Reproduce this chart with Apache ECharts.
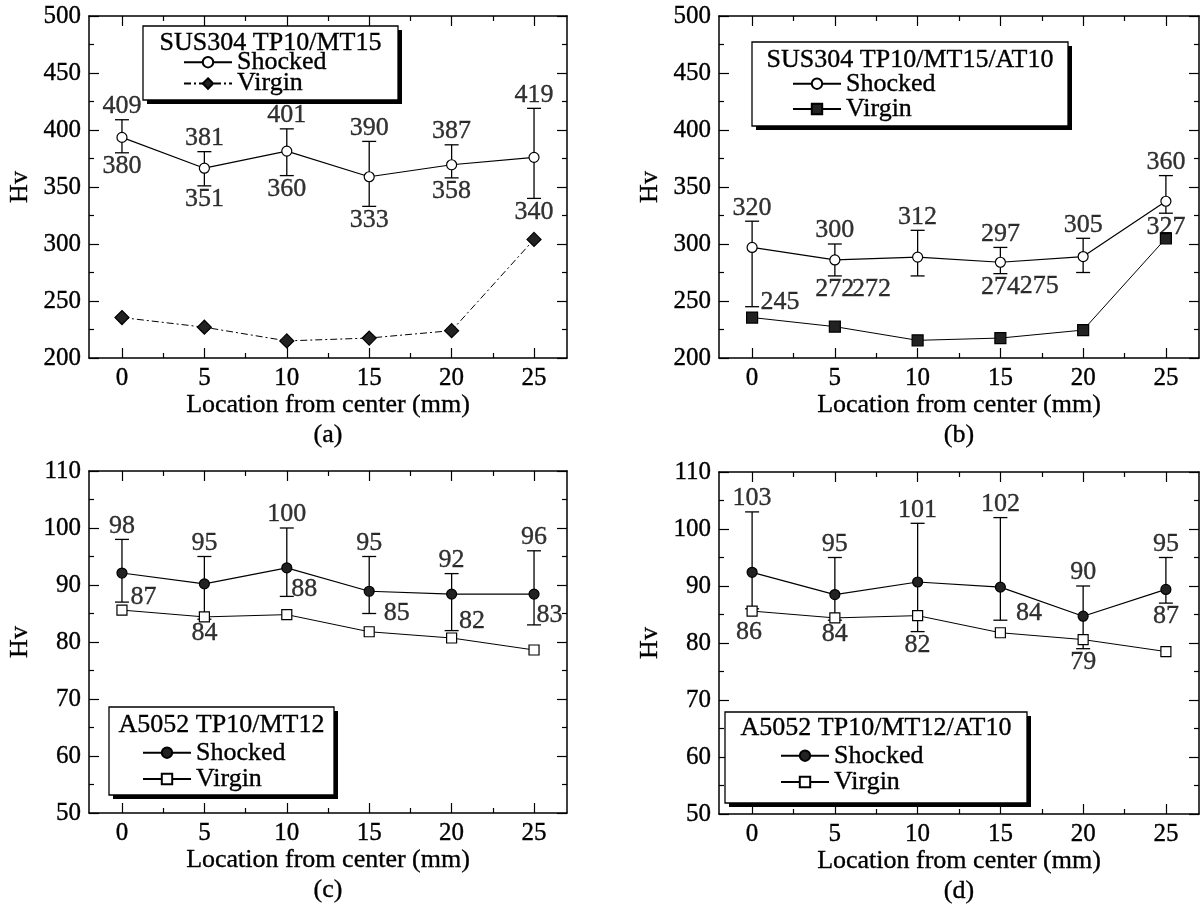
<!DOCTYPE html>
<html>
<head>
<meta charset="utf-8">
<script src="https://cdn.jsdelivr.net/npm/echarts@6/dist/echarts.min.js"></script>
<style>
html, body { margin: 0; padding: 0; background: #fff; }
#main { width: 1203px; height: 908px; }
</style>
</head>
<body>
<div id="main"></div>
<script>
// measurement positions (mm from center)
var positions = [0, 5, 10, 15, 20, 25];
var xMajor = [0, 5, 10, 15, 20, 25];
var xMinor = [2.5, 7.5, 12.5, 17.5, 22.5];

// (a) SUS304 TP10/MT15
var aShocked = [393.5, 366.5, 381.5, 359, 369.5, 376];
var aHigh = [409, 381, 401, 390, 387, 419];
var aLow = [380, 351, 360, 333, 358, 340];
var aVirgin = [235.5, 227, 215, 217.5, 224, 304];

// (b) SUS304 TP10/MT15/AT10
var bShocked = [297, 286, 288.5, 284, 289, 337.5];
var bHigh = [320, 300, 312, 297, 305, 360];
var bLow = [245, 272, 272, 274, 275, 327];
var bVirgin = [235.5, 227.5, 215.5, 217.5, 224.5, 305];

// (c) A5052 TP10/MT12
var cShocked = [92.1, 90.2, 93, 88.9, 88.4, 88.4];
var cHigh = [98, 95, 100, 95, 92, 96];
var cLow = [87, 84, 88, 85, 82, 83];
var cVirgin = [85.6, 84.4, 84.8, 81.8, 80.7, 78.6];

// (d) A5052 TP10/MT12/AT10
var dShocked = [92.4, 88.5, 90.7, 89.8, 84.7, 89.4];
var dHigh = [103, 95, 101, 102, 90, 95];
var dLow = [86, 84, 82, 84, 79, 87];
var dVirgin = [85.6, 84.4, 84.8, 81.8, 80.6, 78.5];

var titles = ['SUS304 TP10/MT15', 'SUS304 TP10/MT15/AT10', 'A5052 TP10/MT12', 'A5052 TP10/MT12/AT10'];
var captions = ['(a)', '(b)', '(c)', '(d)'];

var ink = '#000';
var dark = '#222';
var serif = '"Liberation Serif", "Times New Roman", serif';
var bold = {textBorderColor: '#000', textBorderWidth: 0.35};

var panels = [
    {key: 'a', shocked: aShocked, hi: aHigh, lo: aLow, virgin: aVirgin,
     grid: {left: 89, top: 16, width: 478, height: 342}, yMin: 200, yMax: 500, yStep: 50,
     shockedSym: ['circle', 10, '#fff'], virginSym: ['diamond', 14, dark], virginDash: [7, 3, 2, 3],
     box: [143, 26, 255, 74], titleY: 43, legend: [183, 49], gap: -5},
    {key: 'b', shocked: bShocked, hi: bHigh, lo: bLow, virgin: bVirgin,
     grid: {left: 719, top: 16, width: 480, height: 342}, yMin: 200, yMax: 500, yStep: 50,
     shockedSym: ['circle', 10, '#fff'], virginSym: ['rect', 11, dark], virginDash: 'solid',
     box: [752, 42, 316, 84], titleY: 60, legend: [792, 70.5], gap: -1},
    {key: 'c', shocked: cShocked, hi: cHigh, lo: cLow, virgin: cVirgin,
     grid: {left: 89, top: 471, width: 478, height: 342}, yMin: 50, yMax: 110, yStep: 10,
     shockedSym: ['circle', 10, dark], virginSym: ['rect', 10, '#fff'], virginDash: 'solid',
     box: [109, 707, 225, 88], titleY: 725, legend: [142, 739.5], gap: 0},
    {key: 'd', shocked: dShocked, hi: dHigh, lo: dLow, virgin: dVirgin,
     grid: {left: 719, top: 472, width: 480, height: 342}, yMin: 50, yMax: 110, yStep: 10,
     shockedSym: ['circle', 10, dark], virginSym: ['rect', 10, '#fff'], virginDash: 'solid',
     box: [725, 712, 302, 91], titleY: 728, legend: [780, 742.5], gap: 0}
];

// label placement tweaks for the lower error-bar values
var loTweaks = {
    b: {0: {position: 'right', distance: 8, offset: [0, -5]}, 2: {offset: [-46, 0]}, 4: {offset: [-44, 0]}},
    c: {0: {position: 'right', distance: 8, offset: [0, -5]}, 2: {position: 'right', distance: 4, offset: [0, -7]},
        3: {position: 'right', distance: 14}, 4: {position: 'right', distance: 7, offset: [0, -9]},
        5: {position: 'right', distance: 2, offset: [0, -10]}},
    d: {0: {distance: 10, offset: [-3, 0]}, 3: {position: 'right', distance: 15, offset: [0, -7]}}
};

var tickLine = {color: ink, width: 1.2};
var frameLine = {show: true, onZero: false, lineStyle: {color: ink, width: 1.5}};
var tickFont = Object.assign({fontSize: 25, fontFamily: serif, color: ink}, bold);
var nameFont = Object.assign({fontSize: 26, fontFamily: serif, color: ink}, bold);

function makeXAxes(gi) {
    var common = {type: 'value', gridIndex: gi, min: -2, max: 27, splitLine: {show: false}};
    return [
        Object.assign({}, common, {
            position: 'bottom', axisLine: frameLine,
            axisTick: {show: true, inside: true, length: 10, customValues: xMajor, lineStyle: tickLine},
            axisLabel: Object.assign({show: true, customValues: xMajor, margin: 8}, tickFont),
            name: 'Location from center (mm)', nameLocation: 'middle', nameGap: 31,
            nameTextStyle: nameFont
        }),
        Object.assign({}, common, {
            position: 'bottom', axisLine: {show: false}, axisLabel: {show: false},
            axisTick: {show: true, inside: true, length: 5, customValues: xMinor, lineStyle: tickLine}
        }),
        Object.assign({}, common, {
            position: 'top', axisLine: frameLine, axisLabel: {show: false},
            axisTick: {show: true, inside: true, length: 10, customValues: xMajor, lineStyle: tickLine}
        }),
        Object.assign({}, common, {
            position: 'top', axisLine: {show: false}, axisLabel: {show: false},
            axisTick: {show: true, inside: true, length: 5, customValues: xMinor, lineStyle: tickLine}
        })
    ];
}

function makeYAxes(gi, p) {
    var common = {type: 'value', gridIndex: gi, min: p.yMin, max: p.yMax, interval: p.yStep,
        splitLine: {show: false}, axisLine: frameLine,
        axisTick: {show: true, inside: true, length: 10, lineStyle: tickLine},
        minorTick: {show: true, splitNumber: 2, length: 5, lineStyle: tickLine}};
    return [
        Object.assign({}, common, {
            position: 'left',
            axisLabel: Object.assign({margin: 8}, tickFont),
            name: 'Hv', nameLocation: 'middle', nameGap: 56, nameRotate: 90,
            nameTextStyle: nameFont
        }),
        Object.assign({}, common, {position: 'right', axisLabel: {show: false}})
    ];
}

function renderErrorBar(params, api) {
    var x = api.value(0);
    var lo = api.coord([x, api.value(1)]);
    var hi = api.coord([x, api.value(2)]);
    var w = 7;
    var st = {stroke: ink, lineWidth: 1.3};
    return {
        type: 'group',
        children: [
            {type: 'line', shape: {x1: lo[0], y1: lo[1], x2: hi[0], y2: hi[1]}, style: st},
            {type: 'line', shape: {x1: hi[0] - w, y1: hi[1], x2: hi[0] + w, y2: hi[1]}, style: st},
            {type: 'line', shape: {x1: lo[0] - w, y1: lo[1], x2: lo[0] + w, y2: lo[1]}, style: st}
        ]
    };
}

var labelFont = Object.assign({show: true, fontSize: 26, fontFamily: serif, color: ink,
    formatter: function (p) { return p.value[1]; }}, bold);

var grids = [], xAxes = [], yAxes = [], series = [], legends = [], graphics = [];

panels.forEach(function (p, i) {
    grids.push(p.grid);
    xAxes = xAxes.concat(makeXAxes(i));
    yAxes = yAxes.concat(makeYAxes(i, p));
    var xi = 4 * i, yi = 2 * i;

    series.push({
        type: 'custom', xAxisIndex: xi, yAxisIndex: yi, z: 1,
        renderItem: renderErrorBar,
        encode: {x: 0, y: [1, 2]},
        data: positions.map(function (x, k) { return [x, p.lo[k], p.hi[k]]; })
    });
    series.push({
        type: 'line', name: p.key + ':Virgin', xAxisIndex: xi, yAxisIndex: yi, z: 3,
        data: positions.map(function (x, k) { return [x, p.virgin[k]]; }),
        symbol: p.virginSym[0], symbolSize: p.virginSym[1],
        itemStyle: {color: p.virginSym[2], borderColor: ink, borderWidth: 1.2},
        lineStyle: {color: ink, width: 1, type: p.virginDash}
    });
    series.push({
        type: 'line', name: p.key + ':Shocked', xAxisIndex: xi, yAxisIndex: yi, z: 4,
        data: positions.map(function (x, k) { return [x, p.shocked[k]]; }),
        symbol: p.shockedSym[0], symbolSize: p.shockedSym[1],
        itemStyle: {color: p.shockedSym[2], borderColor: ink, borderWidth: 1.2},
        lineStyle: {color: ink, width: 1.2}
    });
    series.push({
        type: 'scatter', xAxisIndex: xi, yAxisIndex: yi, z: 5, symbolSize: 1,
        itemStyle: {color: 'rgba(0,0,0,0)'}, silent: true,
        label: Object.assign({position: 'top', distance: 0}, labelFont),
        data: positions.map(function (x, k) { return [x, p.hi[k]]; })
    });
    var tw = loTweaks[p.key] || {};
    series.push({
        type: 'scatter', xAxisIndex: xi, yAxisIndex: yi, z: 5, symbolSize: 1,
        itemStyle: {color: 'rgba(0,0,0,0)'}, silent: true,
        label: Object.assign({position: 'bottom', distance: 0}, labelFont),
        data: positions.map(function (x, k) {
            var item = {value: [x, p.lo[k]]};
            if (tw[k]) item.label = tw[k];
            return item;
        })
    });

    legends.push({
        orient: 'vertical', left: p.legend[0], top: p.legend[1], padding: 0,
        itemWidth: 48, itemHeight: 13, itemGap: p.gap, selectedMode: false, z: 30,
        data: [p.key + ':Shocked', p.key + ':Virgin'],
        formatter: function (n) { return n.split(':')[1]; },
        textStyle: nameFont
    });

    var b = p.box;
    graphics.push({type: 'rect', z: 20, shape: {x: b[0] + 4, y: b[1] + 4, width: b[2], height: b[3]},
        style: {fill: ink}});
    graphics.push({type: 'rect', z: 21, shape: {x: b[0], y: b[1], width: b[2], height: b[3]},
        style: {fill: '#fff', stroke: ink, lineWidth: 1.3}});
    graphics.push({type: 'text', z: 22, x: b[0] + b[2] / 2, y: p.titleY,
        style: {text: titles[i], font: '26px ' + serif, fill: ink, stroke: ink, lineWidth: 0.35,
            align: 'center', verticalAlign: 'middle', textAlign: 'center', textVerticalAlign: 'middle'}});
    graphics.push({type: 'text', z: 22, x: p.grid.left + p.grid.width / 2, y: p.grid.top + 419,
        style: {text: captions[i], font: '26px ' + serif, fill: ink, stroke: ink, lineWidth: 0.35,
            align: 'center', verticalAlign: 'middle', textAlign: 'center', textVerticalAlign: 'middle'}});
});

var chart = echarts.init(document.getElementById('main'));
chart.setOption({
    animation: false,
    backgroundColor: '#fff',
    textStyle: {fontFamily: serif},
    grid: grids,
    xAxis: xAxes,
    yAxis: yAxes,
    legend: legends,
    graphic: {elements: graphics},
    series: series
});
</script>
</body>
</html>
